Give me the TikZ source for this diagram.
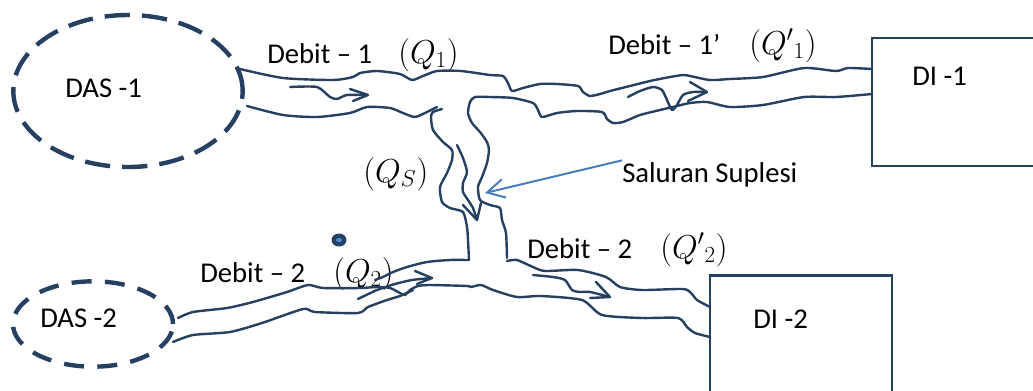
\documentclass[tikz,border=0pt]{standalone}
\usepackage{fontspec}
\setmainfont{Carlito}
\usetikzlibrary{shapes.geometric,arrows.meta}
\definecolor{navy}{RGB}{38,64,98}
\definecolor{sblue}{RGB}{74,126,187}
\definecolor{dotc}{RGB}{84,141,212}
\begin{document}
\begin{tikzpicture}[x=0.75pt,y=-0.75pt,
  river/.style={draw=navy,line width=1.8pt,line cap=round,line join=round},
  dasshape/.style={ellipse,draw=navy,line width=3.3pt,dash pattern=on 19pt off 9pt,inner sep=0pt},
  dibox/.style={rectangle,draw=navy,line width=1.8pt,inner sep=0pt},
  lbl/.style={anchor=base west,inner sep=0pt,font=\fontsize{21.5}{25}\selectfont},
  mlbl/.style={anchor=base west,inner sep=0pt,font=\fontsize{23}{27}\selectfont}]
\useasboundingbox (0,0) rectangle (1033,390);
\clip (0,0) rectangle (1033,390);
% catchments and irrigation areas
\node[dasshape,minimum width=172pt,minimum height=114pt] (das1) at (128,91) {};
\node[dasshape,minimum width=120pt,minimum height=64pt,dash pattern=on 15pt off 10pt] (das2) at (93,324) {};
\node[dibox,minimum width=135pt,minimum height=96pt] (di1) at (962,102) {};
\node[dibox,minimum width=136.5pt,minimum height=100pt] (di2) at (801,342) {};
% labels
\node[lbl] (tdas1) at (65,97) {DAS -1};
\node[lbl] (tdas2) at (40,327) {DAS -2};
\node[lbl] (tdi1) at (912,85) {DI -1};
\node[lbl] (tdi2) at (753,328) {DI -2};
\node[lbl] (d1) at (267,63) {Debit – 1};
\node[mlbl] (q1) at (398,63) {$(Q_1)$};
\node[lbl] (d1p) at (608,54) {Debit – 1’};
\node[mlbl] (q1p) at (749,54) {$(Q'{}_1)$};
\node[mlbl] (qs) at (363,182) {$(Q_S)$};
\node[lbl] (sal) at (622,182) {Saluran Suplesi};
\node[lbl] (d2) at (200,282) {Debit – 2};
\node[mlbl] (q2) at (333,282) {$(Q_2)$};
\node[lbl] (d2p) at (527,258) {Debit – 2};
\node[mlbl] (q2p) at (660,258) {$(Q'{}_2)$};
% dot
\fill[navy] (339,240) ellipse [x radius=7.5,y radius=6.5];
\fill[dotc] (339,240) ellipse [x radius=3,y radius=2];
% upper river top bank
\draw[river] plot[smooth,tension=0.4] coordinates {(240,69) (283,78) (333,80) (353,77) (360,73) (377,71) (400,74) (412,80) (423,76) (437,71) (461,71) (490,75) (503,76) (508,83) (512,91) (523,88) (540,84) (557,84) (578,86) (583,92) (590,96) (600,94) (610,91) (630,86) (650,81) (670,77) (683,75) (690,76) (710,80) (730,79) (763,77) (804,68) (836,71) (848,68) (872,69)};
% upper river left bottom bank
\draw[river] plot[smooth,tension=0.4] coordinates {(247,106) (283,115) (317,117) (350,113) (367,107) (390,108) (403,113) (415,117) (427,112) (437,107)};
% channel left bank
\draw[river] plot[smooth,tension=0.4] coordinates {(442,109) (433,112) (431,117) (433,130) (443,142) (452,150) (452,160) (447,173) (440,187) (442,202) (450,208) (463,212) (467,227) (468,240) (469,260)};
% channel right bank + upper right bottom bank
\draw[river] plot[smooth,tension=0.4] coordinates {(872,94) (836,97) (804,97) (763,105) (730,107) (707,102) (690,103) (677,106) (660,110) (640,115) (623,122) (613,123) (607,119) (602,112) (577,111) (557,113) (542,117) (538,110) (533,103) (513,98) (490,97) (475,97) (470,102) (468,113) (472,123) (480,132) (487,142) (489,150) (487,163) (482,177) (478,187) (480,200) (490,205) (500,208) (502,220) (506,233) (507,258)};
% inner channel line with head
\draw[river] plot[smooth,tension=0.4] coordinates {(457,145) (463,158) (467,172) (463,183) (463,192) (468,200) (473,208) (477,220)};
\draw[river] (463,205) -- (477,220) -- (481,203);
% upper arrows
\draw[river] plot[smooth,tension=0.4] coordinates {(290,87) (317,87) (330,97) (337,99) (347,95) (367,95)};
\draw[river] (350,89) -- (368,95) -- (353,101);
\draw[river] plot[smooth,tension=0.4] coordinates {(628,97) (640,91) (653,87) (662,90) (667,100) (672,110) (677,105) (683,95) (693,92) (707,92)};
\draw[river] (690,82) -- (707,92) -- (688,101);
% lower river
\draw[river] plot[smooth,tension=0.4] coordinates {(178,318) (193,312) (227,308) (253,302) (287,292) (308,285) (323,288) (360,288) (377,287) (390,288) (400,293) (405,295) (410,290) (418,286) (430,285) (467,286) (471,287) (481,285) (493,290) (517,297) (541,296) (582,300) (602,315) (642,318) (678,318) (687,327) (695,333) (710,337)};
\draw[river] plot[smooth,tension=0.4] coordinates {(375,280) (383,277) (393,272) (407,267) (427,262) (450,260) (469,260)};
\draw[river] plot[smooth,tension=0.4] coordinates {(173,342) (193,335) (230,332) (262,323) (303,309) (315,312) (358,313) (368,307) (387,300) (400,296) (413,290)};
\draw[river] plot[smooth,tension=0.4] coordinates {(358,299) (377,290) (395,284) (412,280) (432,278)};
\draw[river] (415,271) -- (432,278) -- (417,284);
\draw[river] plot[smooth,tension=0.4] coordinates {(507,261) (517,260) (533,267) (545,271) (578,270) (606,277) (620,287) (642,290) (683,289) (691,293) (697,300) (710,307)};
\draw[river] plot[smooth,tension=0.4] coordinates {(533,275) (553,277) (565,280) (572,290) (580,292) (590,292) (610,297)};
\draw[river] (596,282) -- (610,297) -- (590,298);
% Saluran Suplesi pointer
\coordinate (tip) at (485,193);
\draw[sblue,line width=1.5pt,-{Straight Barb[length=13pt,width=14pt,line width=1.5pt]}] (sal.west) ++(0,-14) -- (tip);
\end{tikzpicture}
\end{document}
